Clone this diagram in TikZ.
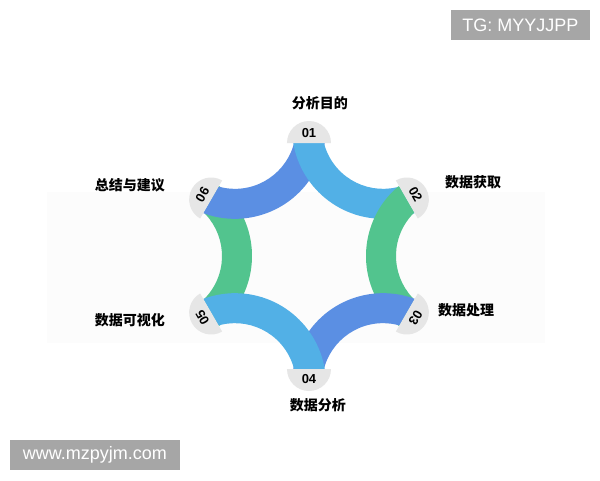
\documentclass[tikz,border=0pt]{standalone}
\usepackage{fontspec}
\setmainfont{Liberation Sans}
\newfontfamily\cjk{Noto Sans CJK SC}
\usetikzlibrary{calc}
\definecolor{lblue}{HTML}{52B0E6}
\definecolor{dblue}{HTML}{5B8FE3}
\definecolor{mgreen}{HTML}{52C48E}
\definecolor{domegray}{HTML}{E6E6E6}
\definecolor{wmgray}{HTML}{A6A6A6}
\newcommand\bandarc[2]{%
  \fill[#2] ($(#1:148)+(#1+120:91)$) arc[start angle=#1+120, end angle=#1+240, radius=91]
    -- ($(#1:148)+(#1+240:61)$) arc[start angle=#1+240, end angle=#1+120, radius=61] -- cycle;}
\tikzset{
  lbl/.style={font=\cjk\bfseries\fontsize{14}{14}\selectfont, inner sep=0pt},
  num/.style={font=\bfseries\fontsize{13}{13}\selectfont, inner sep=0pt},
  wm/.style={fill=wmgray, text=white, font=\fontsize{18}{18}\selectfont, inner sep=0pt, anchor=center},
  dome/.style={fill=domegray}
}
\begin{document}
\begin{tikzpicture}[x=1pt,y=1pt]
\useasboundingbox (-309,-224) rectangle (291,256);
\fill[white] (-309,-224) rectangle (291,256);
% faint background
\fill[black!1] (-262,64) rectangle (236,-87);
% bands
\begin{scope}
  \clip (0:130.5) -- (60:130.5) -- (120:130.5) -- (180:130.5) -- (240:130.5) -- (300:130.5) -- cycle;
  \bandarc{180}{mgreen}
  \bandarc{120}{dblue}
  \bandarc{60}{lblue}
  \bandarc{0}{mgreen}
  \bandarc{-60}{dblue}
  \bandarc{-120}{lblue}
\end{scope}
% domes
\foreach \a/\t in {90/01, 30/02, -30/03, 210/05, 150/06} {
  \begin{scope}[shift={(\a:113)}, rotate=\a-90]
    \fill[dome] (-22,0) arc[start angle=180, end angle=0, radius=22] -- cycle;
    \node[num, transform shape] (n\t) at (0,10) {\t};
  \end{scope}
}
\begin{scope}[shift={(-90:113)}, rotate=180]
  \fill[dome] (-22,0) arc[start angle=180, end angle=0, radius=22] -- cycle;
  \node[num] (n04) at (0,10) {04};
\end{scope}
% labels
\node[lbl] (l1) at (11,153) {分析目的};
\node[lbl] (l2) at (164,74) {数据获取};
\node[lbl] (l3) at (157,-54) {数据处理};
\node[lbl] (l4) at (9,-149) {数据分析};
\node[lbl] (l5) at (-179,-64) {数据可视化};
\node[lbl] (l6) at (-179,71) {总结与建议};
% watermarks
\fill[wmgray] (142,246) rectangle (281,216);
\node[wm] (tg) at (211.5,231) {TG: MYYJJPP};
\fill[wmgray] (-299,-184) rectangle (-129,-214);
\node[wm] (www) at (-214,-199) {www.mzpyjm.com};
\end{tikzpicture}
\end{document}
